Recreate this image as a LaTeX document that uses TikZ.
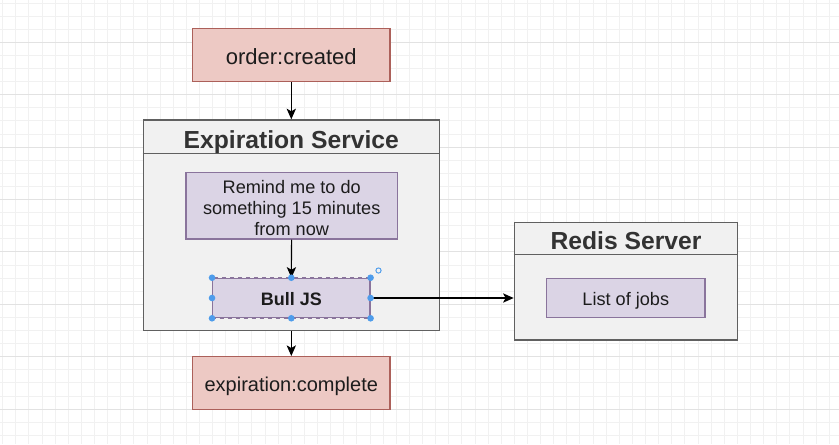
\documentclass[tikz,border=0pt]{standalone}
\usepackage{fontspec}
\setmainfont{Liberation Sans}
\usetikzlibrary{arrows.meta}
\definecolor{evtfill}{RGB}{237,201,196}
\definecolor{evtline}{RGB}{172,96,90}
\definecolor{jobfill}{RGB}{219,212,229}
\definecolor{jobline}{RGB}{138,116,156}
\definecolor{boxfill}{RGB}{241,241,241}
\definecolor{boxline}{RGB}{96,96,96}
\definecolor{gridminor}{RGB}{241,241,241}
\definecolor{gridmajor}{RGB}{226,226,226}
\definecolor{handle}{RGB}{78,156,235}
\definecolor{ink}{RGB}{28,28,28}

\begin{document}
\begin{tikzpicture}[x=0.75pt,y=0.75pt,yscale=-1,xscale=1,
  evt/.style={draw=evtline, fill=evtfill, line width=1pt, inner sep=0pt,
    minimum width=148pt, minimum height=39.5pt, text=ink, text depth=0pt},
  job/.style={draw=jobline, fill=jobfill, line width=0.9pt, inner sep=0pt,
    text=ink, font=\fontsize{13.6}{15.8}\selectfont, align=center},
  svc/.style={draw=boxline, fill=boxfill, line width=1pt, inner sep=0pt},
  title/.style={text=ink!90, font=\bfseries\fontsize{18.5}{22}\selectfont,
    text height=17pt, text depth=0pt},
  link/.style={line width=0.8pt, -{Stealth[length=8pt,width=7pt,inset=2pt]}}]
        \useasboundingbox (0,0) rectangle (839,444);
        \fill[white] (0,0) rectangle (839,444);
        
        % grid
        \foreach \k in {0,...,63} \draw[gridminor, line width=0.75pt] ({2.7+13.12*\k},0) -- ({2.7+13.12*\k},444);
        \foreach \k in {0,...,33} \draw[gridminor, line width=0.75pt] (0,{3.0+13.1*\k}) -- (839,{3.0+13.1*\k});
        \foreach \k in {0,...,7} \draw[gridmajor, line width=0.75pt] (0,{42.3+52.4*\k}) -- (839,{42.3+52.4*\k});
        
        % Expiration Service
        \node[svc, minimum width=222pt, minimum height=158pt] (exp) at (291.3,225.3) {};
        \draw[boxline, line width=1pt] (exp.north west) ++(0,34) coordinate (exphl) -- (exphl -| exp.east);
        \node[title] (exptitle) at (291.3,137) {Expiration Service};
        
        % Redis Server
        \node[svc, minimum width=167.5pt, minimum height=88.3pt] (redis) at (626,281.2) {};
        \draw[boxline, line width=1pt] (redis.north west) ++(0,32.7) coordinate (redhl) -- (redhl -| redis.east);
        \node[title] (redtitle) at (626,238.6) {Redis Server};
        
        % events
        \node[evt, font=\fontsize{16.5}{19}\selectfont, text height=14.2pt] (ordcreated) at (291.3,55) {order:created};
        \node[evt, font=\fontsize{15}{18}\selectfont, text height=12.9pt] (expcomplete) at (291.3,383) {expiration:complete};
        
        % inner boxes
        \node[job, minimum width=158.5pt, minimum height=50pt, text height=44.6pt, text depth=0pt] (remind) at (291.7,205.7) {Remind me to do\\something 15 minutes\\from now};
        \node[job, minimum width=118pt, minimum height=29.5pt, text height=11.6pt, text depth=0pt, font=\bfseries\fontsize{13.5}{16}\selectfont] (bull) at (291.3,298) {Bull JS};
        \node[job, minimum width=118.7pt, minimum height=29.5pt, text height=11.6pt, text depth=0pt] (jobs) at (625.8,298) {List of jobs};
        
        % arrows
        \draw[link] (ordcreated) -- (exp);
        \draw[link] (remind) -- (bull);
        \draw[link] (bull.east) -- (bull.east -| redis.west);
        \draw[link] (exp) -- (expcomplete);
        
        % selection handles
        \draw[jobline, dashed, line width=0.6pt] (bull.north west) rectangle (bull.south east);
        \foreach \a in {north west,north,north east,east,south east,south,south west,west}
          \fill[handle] (bull.\a) circle (3.3);
        \draw[handle, line width=0.7pt] (378.5,270.5) circle (2.6);
        
        \end{tikzpicture}
\end{document}
